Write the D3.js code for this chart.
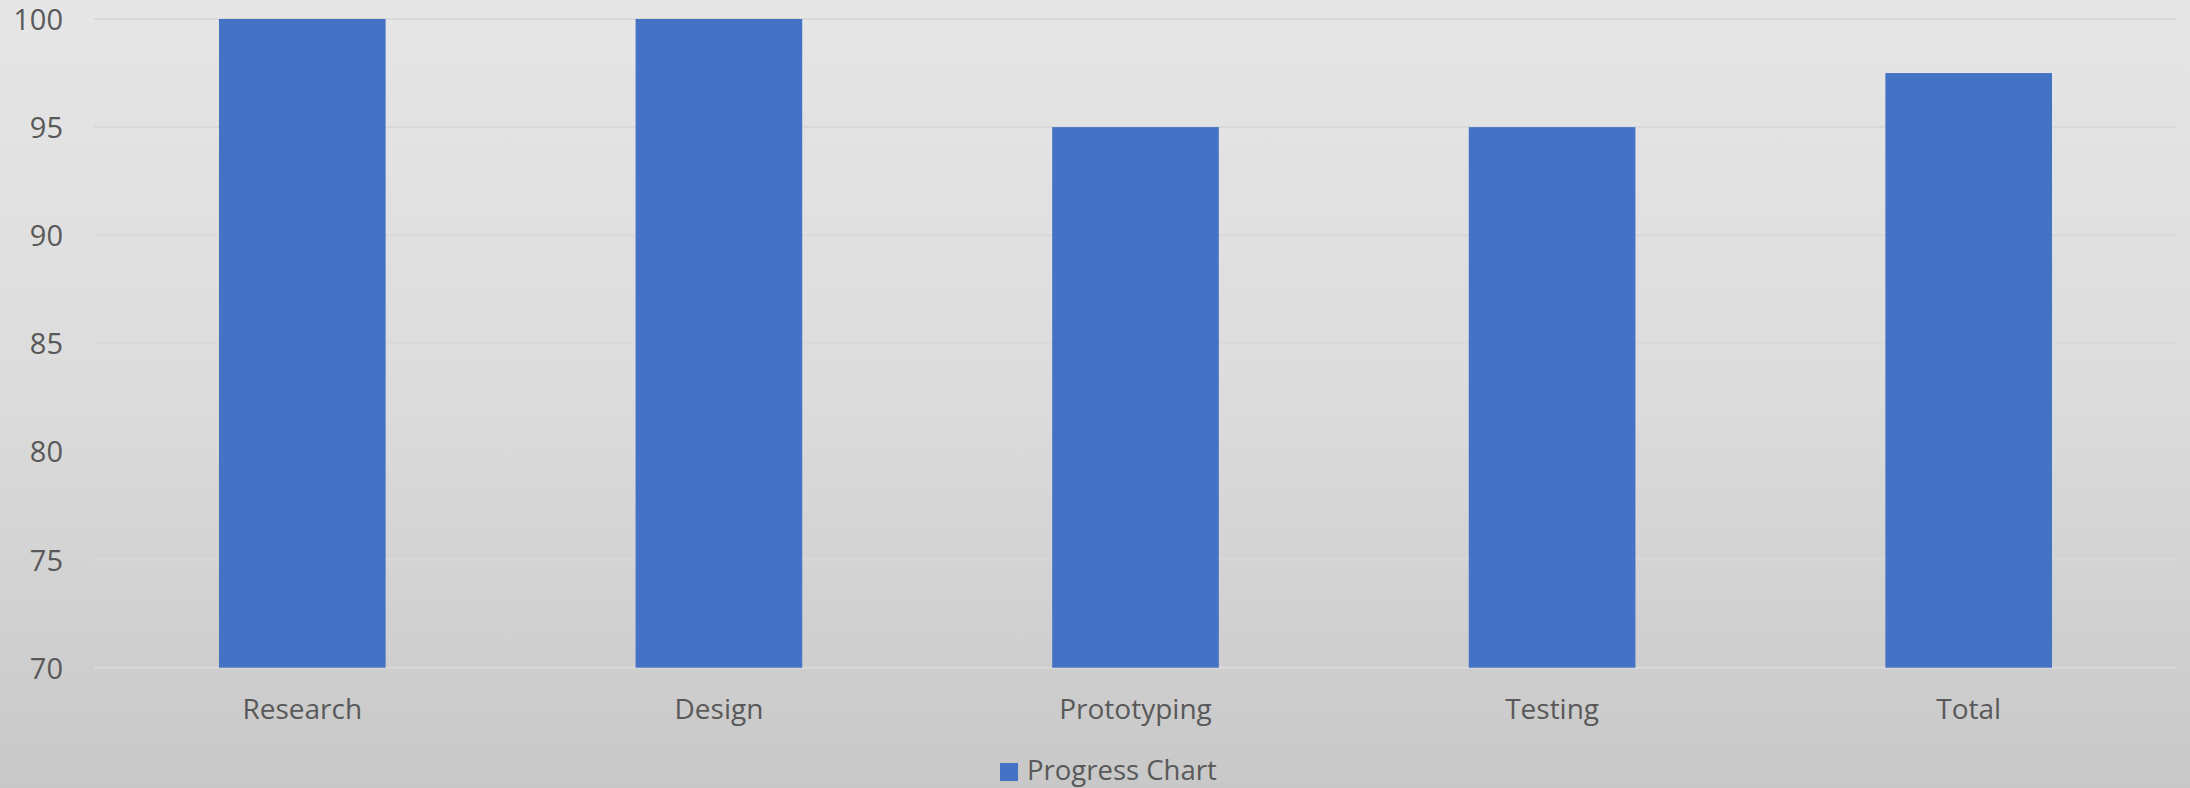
<!DOCTYPE html>
<html><head><meta charset="utf-8">
<script src="https://cdn.jsdelivr.net/npm/d3@7"></script>
<style>html,body{margin:0;padding:0;overflow:hidden;}svg{display:block;}</style>
</head><body>
<svg id="chart" width="2190" height="788"></svg>
<script>
const categories = ["Research", "Design", "Prototyping", "Testing", "Total"];
const values = [100, 100, 95, 95, 97.5];
const yTicks = [70, 75, 80, 85, 90, 95, 100];
const seriesName = "Progress Chart";

const W = 2190, H = 788;
const m = {left: 94, right: 13, top: 19, bottom: 120};
const svg = d3.select("#chart");
const defs = svg.append("defs");
const grad = defs.append("linearGradient").attr("id","bg").attr("x1",0).attr("y1",0).attr("x2",0).attr("y2",1);
grad.append("stop").attr("offset","0%").attr("stop-color","#e6e6e6");
grad.append("stop").attr("offset","50%").attr("stop-color","#dcdcdc");
grad.append("stop").attr("offset","100%").attr("stop-color","#c8c8c8");
svg.append("rect").attr("width",W).attr("height",H).attr("fill","url(#bg)");

const x = d3.scaleBand().domain(categories).range([m.left, W - m.right]).paddingInner(0.6).paddingOuter(0.3);
const y = d3.scaleLinear().domain([70, 100]).range([H - m.bottom - 0.3, m.top]);

const font = "'Open Sans', sans-serif";
const g = svg.append("g");
// gridlines
g.selectAll("line.grid").data(yTicks).join("line")
  .attr("x1", m.left).attr("x2", W - m.right)
  .attr("y1", d => y(d)).attr("y2", d => y(d))
  .attr("stroke", "#d9d9d9").attr("stroke-width", 2);

// bars
g.selectAll("rect.bar").data(values).join("rect")
  .attr("x", (d,i) => x(categories[i]))
  .attr("width", x.bandwidth())
  .attr("y", d => y(d))
  .attr("height", d => y(70) - y(d))
  .attr("fill", "#4472c4");

// y axis labels
const yAxis = d3.axisLeft(y).tickValues(yTicks).tickSize(0).tickPadding(0);
const ya = svg.append("g").attr("transform", `translate(63,0)`).call(yAxis);
ya.select(".domain").remove();
ya.selectAll("text").attr("font-family", font).attr("font-size", 29).attr("fill", "#595959").attr("dy", "0.36em");

// x axis labels
const xAxis = d3.axisBottom(x).tickSize(0).tickPadding(0);
const xa = svg.append("g").attr("transform", `translate(0,${y(70)})`).call(xAxis);
xa.select(".domain").remove();
xa.selectAll("text").attr("font-family", font).attr("font-size", 28).attr("fill", "#595959").attr("dy", null).attr("y", 51);

// legend
const leg = svg.append("g");
leg.append("rect").attr("x", 1000).attr("y", 763).attr("width", 18).attr("height", 18).attr("fill", "#4472c4");
leg.append("text").attr("x", 1027).attr("y", 780).text(seriesName)
  .attr("font-family", font).attr("font-size", 27.5).attr("fill", "#595959");
</script>
</body></html>
